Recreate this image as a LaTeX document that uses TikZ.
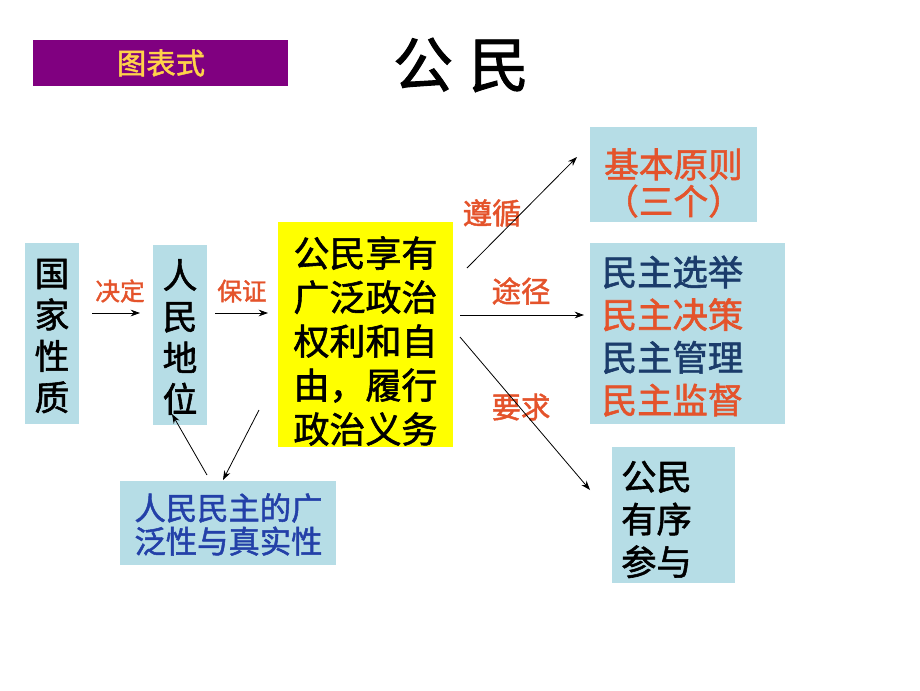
\documentclass[tikz,border=0pt]{standalone}
\usepackage{fontspec}
\setmainfont[FakeBold=1.6,AutoFakeBold=1.6]{Noto Sans CJK SC}
\usetikzlibrary{arrows.meta}
\definecolor{boxblue}{HTML}{B6DDE6}
\definecolor{ored}{HTML}{E4532B}
\definecolor{dblue}{HTML}{1B3C6B}
\definecolor{mblue}{HTML}{2340A8}
\definecolor{purp}{HTML}{800080}
\definecolor{ylw}{HTML}{FFD24A}
\definecolor{ybox}{HTML}{FFFF00}
\begin{document}
\begin{tikzpicture}[x=0.75pt,y=-0.75pt,
  box/.style={fill=boxblue, inner sep=0pt},
  conn/.style={-{Stealth[length=7pt,width=5pt]}, line width=0.6pt},
  lbls/.style={text=ored, inner sep=0pt, font=\fontsize{18.5}{20}\selectfont\bfseries},
  lblb/.style={text=ored, inner sep=0pt, font=\fontsize{22}{24}\selectfont\bfseries},
  colt/.style={inner sep=0pt, align=center, font=\fontsize{26}{31}\selectfont\bfseries},
  bigt/.style={inner sep=0pt, align=left, font=\fontsize{27}{33}\selectfont\bfseries}]
\useasboundingbox (0,0) rectangle (920,690);

% header
\node (hdr) [fill=purp, minimum width=191.25pt, minimum height=34.5pt, inner sep=0pt] at (160.5,63) {};
\node (hdrt) [text=ylw, inner sep=0pt, font=\fontsize{22}{24}\selectfont\bfseries] at (161,63) {图表式};
\node (title) [inner sep=0pt, font=\fontsize{45}{50}\selectfont\bfseries] at (461,65) {公\hspace{12pt}民};

% left boxes
\node (gj) [box, minimum width=40.5pt, minimum height=135.75pt] at (52,333.5) {};
\node (gjt) [colt] at (52,336) {国\\家\\性\\质};
\node (rm) [box, minimum width=40.5pt, minimum height=135pt] at (180,335) {};
\node (rmt) [colt] at (180,337) {人\\民\\地\\位};

% yellow box
\node (yb) [fill=ybox, inner sep=0pt, minimum width=131.25pt, minimum height=168.75pt] at (365.5,334.5) {};
\node (ybt) [bigt] at (365.5,341) {公民享有\\广泛政治\\权利和自\\由，履行\\政治义务};

% bottom box
\node (mz) [box, minimum width=162pt, minimum height=63pt] at (228,523) {};
\node (mzt) [inner sep=0pt, align=center, text=mblue, font=\fontsize{23.5}{25}\selectfont\bfseries] at (228.5,524.5) {人民民主的广\\泛性与真实性};

% right boxes
\node (jb) [box, minimum width=125.25pt, minimum height=71.25pt] at (673.5,174.5) {};
\node (jbt) [inner sep=0pt, align=center, text=ored, font=\fontsize{26}{27.5}\selectfont\bfseries] at (673.5,183) {基本原则\\（三个）};

\node (xj) [box, minimum width=146.25pt, minimum height=135.75pt] at (687.5,333.5) {};
\node (xjt) [inner sep=0pt, align=left, font=\fontsize{26.5}{32}\selectfont\bfseries] at (672.5,336)
  {\textcolor{dblue}{民主选举}\\\textcolor{ored}{民主决策}\\\textcolor{dblue}{民主管理}\\\textcolor{ored}{民主监督}};

\node (gm) [box, minimum width=92.25pt, minimum height=102pt] at (673.5,515) {};
\node (gmt) [inner sep=0pt, align=left, font=\fontsize{26.5}{32}\selectfont\bfseries] at (656.5,519.5) {公民\\有序\\参与};

% labels
\node (l1) [lbls] at (120,291) {决定};
\node (l2) [lbls] at (242,291) {保证};
\node (l3) [lblb] at (492,213) {遵循};
\node (l4) [lblb] at (521,291) {途径};
\node (l5) [lblb] at (521,407) {要求};

% connector ends
\coordinate (a1s) at (92,313);  \coordinate (a1e) at (140,313);
\coordinate (a2s) at (215,313); \coordinate (a2e) at (268,313);
\coordinate (a3s) at (467,268); \coordinate (a3e) at (577,157);
\coordinate (a4s) at (460,315); \coordinate (a4e) at (584,315);
\coordinate (a5s) at (460,337); \coordinate (a5e) at (590,490);
\coordinate (a6s) at (207,475); \coordinate (a6e) at (172,414);
\coordinate (a7s) at (259,410); \coordinate (a7e) at (223,480);

\draw[conn] (a1s) -- (a1e);
\draw[conn] (a2s) -- (a2e);
\draw[conn] (a3s) -- (a3e);
\draw[conn] (a4s) -- (a4e);
\draw[conn] (a5s) -- (a5e);
\draw[conn] (a6s) -- (a6e);
\draw[conn] (a7s) -- (a7e);
\end{tikzpicture}
\end{document}
